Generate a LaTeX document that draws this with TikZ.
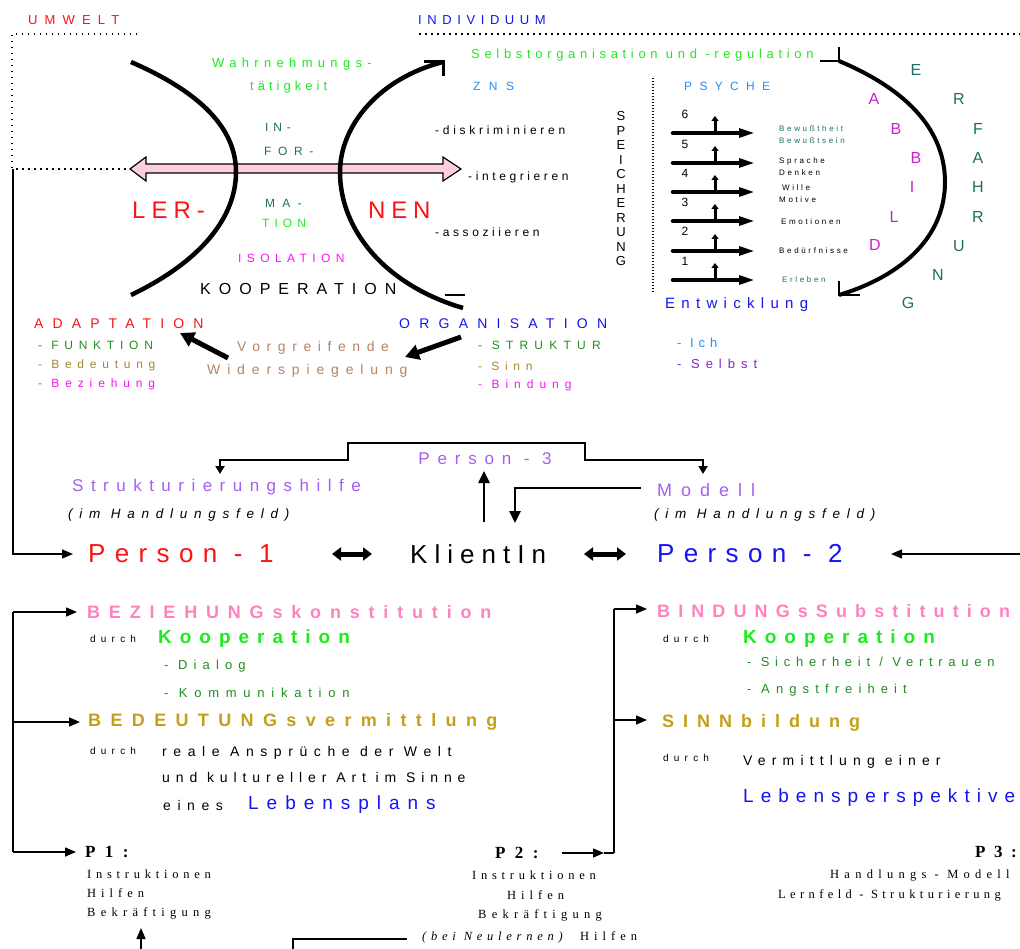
\documentclass[tikz,border=0pt]{standalone}
\usepackage{fontspec}
\setmainfont{Liberation Sans}
\newfontfamily\timesf{Liberation Serif}
\usetikzlibrary{arrows.meta}
\definecolor{umred}{RGB}{250,20,20}
\definecolor{indblue}{RGB}{20,20,240}
\definecolor{limegr}{RGB}{30,235,30}
\definecolor{tealgr}{RGB}{30,110,100}
\definecolor{forestgr}{RGB}{35,140,35}
\definecolor{olivey}{RGB}{165,135,45}
\definecolor{goldy}{RGB}{195,160,25}
\definecolor{magen}{RGB}{250,20,250}
\definecolor{abbild}{RGB}{205,30,205}
\definecolor{rosa}{RGB}{255,130,190}
\definecolor{skyb}{RGB}{30,144,255}
\definecolor{lila}{RGB}{165,95,240}
\definecolor{violett}{RGB}{135,35,205}
\definecolor{braun}{RGB}{185,130,100}
\definecolor{pinkfill}{RGB}{255,205,225}
\newcommand\lsf[2]{\fontsize{#1}{#1}\selectfont\addfontfeature{LetterSpace=#2}}
\tikzset{
  lbl/.style={inner sep=0pt, anchor=west},
  ctr/.style={inner sep=0pt},
  punkte/.style={line width=1.5pt, dash pattern=on 1.5pt off 4.5pt},
  bogen/.style={line width=4.5pt},
  linie/.style={line width=1.5pt},
  duennpfeil/.style={line width=1.5pt, -{Triangle[length=11pt,width=9pt]}},
  dickpfeil/.style={line width=5pt, -{Triangle[length=14pt,width=15pt]}},
  stufe/.style={line width=4.5pt, line cap=round, -{Triangle[length=18pt,width=8pt]}},
  stufeup/.style={line width=3pt, -{Triangle[length=5pt,width=7pt]}},
  klammer/.style={line width=2.5pt, {Triangle[length=8pt,width=9pt]}-{Triangle[length=8pt,width=9pt]}},
  hochpfeil/.style={line width=2.5pt, -{Triangle[length=12pt,width=11pt]}},
  doppel/.style={line width=5pt, {Triangle[length=9pt,width=13pt]}-{Triangle[length=9pt,width=13pt]}}
}
\begin{document}
\begin{tikzpicture}[x=1pt,y=-1pt]
\fill[white] (0,0) rectangle (1020,949);
\useasboundingbox (0,0) rectangle (1020,949);

% Umwelt / Individuum
\node[lbl, umred, font=\lsf{13}{55}] (umwelt) at (28,20) {UMWELT};
\node[lbl, indblue, font=\lsf{13}{43}] (indiv) at (418,20) {INDIVIDUUM};
\draw[punkte] (137,34) -- (12,34) -- (12,169) -- (130,169);
\draw[punkte] (419,34) -- (1020,34);

% Information (Doppelpfeil)
\filldraw[fill=pinkfill, line width=1.2pt] (130,169) -- (146,157) -- (146,164) -- (443,164) -- (443,157)
  -- (461,169) -- (443,181) -- (443,173) -- (146,173) -- (146,181) -- cycle;

% Boegen Lernen
\draw[bogen] (131,62) .. controls (200,92) and (236,128) .. (236,172) .. controls (236,218) and (200,262) .. (131,295);
\draw[bogen] (443,62) .. controls (380,78) and (340,125) .. (340,172) .. controls (340,230) and (385,285) .. (463,308);
\draw[line width=3pt] (424,62) -- (443,62) -- (443,76);
\draw[line width=2pt] (445,295) -- (465,295);

\node[lbl, limegr, font=\lsf{13}{41}] (wahr) at (212,64) {Wahrnehmungs-};
\node[lbl, limegr, font=\lsf{13}{31}] (taet) at (250,87) {tätigkeit};
\node[lbl, tealgr, font=\lsf{12}{40}] (in) at (265,127) {IN-};
\node[lbl, tealgr, font=\lsf{12}{55}] (for) at (264,151) {FOR-};
\node[lbl, tealgr, font=\lsf{12}{60}] (ma) at (265,203) {MA-};
\node[lbl, limegr, font=\lsf{12}{42}] (tion) at (262,223) {TION};
\node[lbl, umred, font=\lsf{24}{25}] (ler) at (132,210) {LER-};
\node[lbl, umred, font=\lsf{24}{24}] (nen) at (368,210) {NEN};
\node[lbl, magen, font=\lsf{12}{45}] (isol) at (238,258) {ISOLATION};
\node[lbl, font=\lsf{16}{50}] (koop) at (200,289) {KOOPERATION};
\node[lbl, font=\lsf{12}{31}] (diskr) at (435,130) {-diskriminieren};
\node[lbl, font=\lsf{12}{30}] (integr) at (468,177) {-integrieren};
\node[lbl, font=\lsf{12}{30}] (assoz) at (435,232) {-assoziieren};

% Individuum: ZNS / Psyche
\node[lbl, limegr, font=\lsf{13}{36}] (selbstorg) at (471,55) {Selbstorganisation\ und\ -regulation};
\node[lbl, skyb, font=\lsf{12}{70}] (zns) at (473,86) {ZNS};
\node[lbl, skyb, font=\lsf{12}{61}] (psyche) at (684,86) {PSYCHE};
\node[ctr, align=center, font=\fontsize{13}{14.5}\selectfont] (speich) at (621,189) {S\\P\\E\\I\\C\\H\\E\\R\\U\\N\\G};
\draw[line width=2pt, dash pattern=on 1.5pt off 1.5pt] (653,78) -- (653,294);

% Stufen 1-6
\draw[stufe] (673,133) -- (757,133);
\draw[stufeup] (715,133) -- (715,116);
\draw[stufe] (673,163) -- (757,163);
\draw[stufeup] (715,163) -- (715,146);
\draw[stufe] (673,192) -- (757,192);
\draw[stufeup] (715,192) -- (715,175);
\draw[stufe] (673,221) -- (757,221);
\draw[stufeup] (715,221) -- (715,204);
\draw[stufe] (673,251) -- (757,251);
\draw[stufeup] (715,251) -- (715,234);
\draw[stufe] (673,280) -- (757,280);
\draw[stufeup] (715,280) -- (715,263);
\node[ctr, font=\lsf{12}{0}] (n6) at (685,114) {6};
\node[ctr, font=\lsf{12}{0}] (n5) at (685,144) {5};
\node[ctr, font=\lsf{12}{0}] (n4) at (685,173) {4};
\node[ctr, font=\lsf{12}{0}] (n3) at (685,202) {3};
\node[ctr, font=\lsf{12}{0}] (n2) at (685,231) {2};
\node[ctr, font=\lsf{12}{0}] (n1) at (685,261) {1};
\node[lbl, tealgr, font=\lsf{8}{33}] (bewh) at (779,129) {Bewußtheit};
\node[lbl, tealgr, font=\lsf{8}{33}] (bews) at (779,141) {Bewußtsein};
\node[lbl, font=\lsf{8}{33}] (sprache) at (779,161) {Sprache};
\node[lbl, font=\lsf{8}{33}] (denken) at (779,173) {Denken};
\node[lbl, font=\lsf{8}{33}] (wille) at (782,188) {Wille};
\node[lbl, font=\lsf{8}{33}] (motive) at (779,200) {Motive};
\node[lbl, font=\lsf{8}{33}] (emo) at (781,222) {Emotionen};
\node[lbl, font=\lsf{8}{33}] (beduerf) at (779,251) {Bedürfnisse};
\node[lbl, tealgr, font=\lsf{8}{33}] (erleben) at (782,280) {Erleben};

% Bogen Erfahrung / Abbild
\draw[line width=4pt] (839,61) .. controls (920,95) and (945,140) .. (945,182) .. controls (945,235) and (905,275) .. (839,295);
\draw[line width=2pt] (820,61) -- (839,61) -- (839,47);
\draw[line width=2pt] (839,281) -- (839,295) -- (860,295);
\node[ctr, abbild, font=\lsf{16}{0}] (a1) at (874,99) {A};
\node[ctr, abbild, font=\lsf{16}{0}] (a2) at (896,129) {B};
\node[ctr, abbild, font=\lsf{16}{0}] (a3) at (916,158) {B};
\node[ctr, abbild, font=\lsf{16}{0}] (a4) at (912,187) {I};
\node[ctr, abbild, font=\lsf{16}{0}] (a5) at (894,217) {L};
\node[ctr, abbild, font=\lsf{16}{0}] (a6) at (875,245) {D};
\node[ctr, tealgr, font=\lsf{16}{0}] (e1) at (916,70) {E};
\node[ctr, tealgr, font=\lsf{16}{0}] (e2) at (959,99) {R};
\node[ctr, tealgr, font=\lsf{16}{0}] (e3) at (978,129) {F};
\node[ctr, tealgr, font=\lsf{16}{0}] (e4) at (978,158) {A};
\node[ctr, tealgr, font=\lsf{16}{0}] (e5) at (978,187) {H};
\node[ctr, tealgr, font=\lsf{16}{0}] (e6) at (978,217) {R};
\node[ctr, tealgr, font=\lsf{16}{0}] (e7) at (959,246) {U};
\node[ctr, tealgr, font=\lsf{16}{0}] (e8) at (938,275) {N};
\node[ctr, tealgr, font=\lsf{16}{0}] (e9) at (908,303) {G};
\node[lbl, indblue, font=\lsf{15}{42}] (entw) at (665,305) {Entwicklung};
\node[lbl, skyb, font=\lsf{13}{38}] (ich) at (677,343) {- Ich};
\node[lbl, violett, font=\lsf{13}{46}] (selbst) at (677,364) {- Selbst};

% Adaptation / Organisation
\node[lbl, umred, font=\lsf{14}{65}] (adapt) at (34,324) {ADAPTATION};
\node[lbl, forestgr, font=\lsf{12}{48}] (funk) at (38,345) {- FUNKTION};
\node[lbl, olivey, font=\lsf{12}{48}] (bedeut) at (38,365) {- Bedeutung};
\node[lbl, magen, font=\lsf{12}{49}] (bezieh) at (38,384) {- Beziehung};
\node[lbl, braun, font=\lsf{14}{47}] (vorg) at (237,348) {Vorgreifende};
\node[lbl, braun, font=\lsf{14}{49}] (widersp) at (207,371) {Widerspiegelung};
\node[lbl, indblue, font=\lsf{14}{66}] (organ) at (399,324) {ORGANISATION};
\node[lbl, forestgr, font=\lsf{12}{52}] (strukt) at (478,345) {- STRUKTUR};
\node[lbl, olivey, font=\lsf{12}{48}] (sinn) at (478,366) {- Sinn};
\node[lbl, magen, font=\lsf{12}{50}] (bind) at (478,385) {- Bindung};
\coordinate (vorgA) at (228,358);
\coordinate (adaptA) at (180,333);
\coordinate (organA) at (461,337);
\coordinate (vorgB) at (405,357);
\draw[dickpfeil] (vorgA) -- (adaptA);
\draw[dickpfeil] (organA) -- (vorgB);

% Personen
\node[ctr, lila, font=\lsf{17}{46}] (p3) at (485,459) {Person - 3};
\node[lbl, lila, font=\lsf{17}{44}] (strhilfe) at (72,487) {Strukturierungshilfe};
\node[lbl, font=\itshape\lsf{13.5}{50}] (imhf1) at (68,515) {(im Handlungsfeld)};
\node[lbl, lila, font=\lsf{18}{50}] (modell) at (657,490) {Modell};
\node[lbl, font=\itshape\lsf{13.5}{50}] (imhf2) at (654,515) {(im Handlungsfeld)};
\node[lbl, umred, font=\lsf{26}{36}] (pers1) at (88,554) {Person - 1};
\node[lbl, font=\lsf{26}{27}] (klient) at (410,554) {KlientIn};
\node[lbl, indblue, font=\lsf{26}{36}] (pers2) at (657,554) {Person - 2};
\coordinate (k1) at (220,474);
\coordinate (k2) at (703,474);
\draw[klammer] (k1) |- (348,460) |- (585,443) |- (703,460) -- (k2);
\coordinate (kup) at (484,522);
\coordinate (p3s) at (484,471);
\draw[hochpfeil] (kup) -- (p3s);
\coordinate (kdown) at (515,523);
\draw[hochpfeil] (641,488) -| (kdown);
\coordinate (d1) at (332,554);
\coordinate (d2) at (372,554);
\coordinate (d3) at (584,554);
\coordinate (d4) at (626,554);
\draw[doppel] (d1) -- (d2);
\draw[doppel] (d3) -- (d4);
\coordinate (ecke) at (13,169);
\coordinate (p1spitze) at (73,554);
\draw[duennpfeil] (ecke) |- (p1spitze);
\coordinate (rechts) at (1022,554);
\coordinate (p2spitze) at (891,554);
\draw[duennpfeil] (rechts) -- (p2spitze);

% Beziehung / Bedeutung
\node[lbl, rosa, font=\bfseries\lsf{18}{49}] (bezk) at (87,612) {BEZIEHUNGskonstitution};
\node[lbl, font=\lsf{10}{52}] (durch1) at (90,639) {durch};
\node[lbl, limegr, font=\bfseries\lsf{19}{42}] (koop1) at (158,639) {Kooperation};
\node[lbl, forestgr, font=\lsf{13}{47}] (dialog) at (164,666) {- Dialog};
\node[lbl, forestgr, font=\lsf{13}{52}] (kommu) at (164,693) {- Kommunikation};
\node[lbl, goldy, font=\bfseries\lsf{18}{52}] (bedv) at (88,722) {BEDEUTUNGsvermittlung};
\node[lbl, font=\lsf{10}{52}] (durch2) at (90,751) {durch};
\node[lbl, font=\lsf{14}{47}] (reale) at (162,753) {reale Ansprüche der Welt};
\node[lbl, font=\lsf{14}{42}] (kultur) at (162,777) {und kultureller Art im Sinne};
\node[lbl, font=\lsf{14}{47}] (eines) at (163,805) {eines};
\node[lbl, indblue, font=\lsf{19}{42}] (lebensplan) at (248,805) {Lebensplans};
\coordinate (lb1) at (13,612);
\coordinate (lb2) at (13,722);
\coordinate (lb3) at (13,852);
\draw[linie] (lb1) -- (lb3);
\draw[duennpfeil] (lb1) -- ([xshift=-10pt]bezk.west);
\draw[duennpfeil] (lb2) -- ([xshift=-8pt]bedv.west);
\draw[duennpfeil] (lb3) -- (76,852);

% Bindung / Sinn
\node[lbl, rosa, font=\bfseries\lsf{18}{45}] (binds) at (657,611) {BINDUNGsSubstitution};
\node[lbl, font=\lsf{10}{52}] (durch3) at (663,639) {durch};
\node[lbl, limegr, font=\bfseries\lsf{19}{42}] (koop2) at (743,639) {Kooperation};
\node[lbl, forestgr, font=\lsf{13}{44}] (sicher) at (747,662) {- Sicherheit / Vertrauen};
\node[lbl, forestgr, font=\lsf{13}{47}] (angst) at (747,690) {- Angstfreiheit};
\node[lbl, goldy, font=\bfseries\lsf{18}{50}] (sinnb) at (662,723) {SINNbildung};
\node[lbl, font=\lsf{10}{52}] (durch4) at (663,758) {durch};
\node[lbl, font=\lsf{14}{44}] (vermitt) at (743,762) {Vermittlung einer};
\node[lbl, indblue, font=\lsf{19}{37}] (lebensp) at (743,798) {Lebensperspektive};
\coordinate (rb1) at (614,609);
\coordinate (rb2) at (614,720);
\coordinate (rb3) at (614,853);
\draw[linie] (rb1) -- (rb3);
\draw[duennpfeil] (rb1) -- (647,609);
\draw[duennpfeil] (rb2) -- (647,720);

% P1 - P3
\node[lbl, font=\timesf\bfseries\lsf{17}{55}] (P1) at (85,852) {P1:};
\node[lbl, font=\timesf\lsf{12.5}{38}] (instr1) at (87,874) {Instruktionen};
\node[lbl, font=\timesf\lsf{12.5}{40}] (hilf1) at (87,893) {Hilfen};
\node[lbl, font=\timesf\lsf{12.5}{42}] (bekr1) at (87,913) {Bekräftigung};
\node[lbl, font=\timesf\bfseries\lsf{17}{55}] (P2) at (495,853) {P2:};
\node[lbl, font=\timesf\lsf{12.5}{38}] (instr2) at (472,875) {Instruktionen};
\node[lbl, font=\timesf\lsf{12.5}{40}] (hilf2) at (507,895) {Hilfen};
\node[lbl, font=\timesf\lsf{12.5}{42}] (bekr2) at (478,915) {Bekräftigung};
\node[lbl, font=\timesf\itshape\lsf{12.5}{38}] (neul) at (422,937) {(bei Neulernen)};
\node[lbl, font=\timesf\lsf{12.5}{40}] (hilf3) at (580,936) {Hilfen};
\node[lbl, font=\timesf\bfseries\lsf{17}{50}] (P3) at (975,852) {P3:};
\node[lbl, font=\timesf\lsf{12.5}{42}] (handl) at (830,876) {Handlungs - Modell};
\node[lbl, font=\timesf\lsf{12.5}{35}] (lernf) at (778,895) {Lernfeld - Strukturierung};
\coordinate (p2a) at (562,853);
\coordinate (p2b) at (604,853);
\draw[duennpfeil] (p2a) -- (p2b);
\draw[linie] (p2b) -- (rb3);
\coordinate (unten1) at (141,951);
\coordinate (unten2) at (141,928);
\draw[duennpfeil] (unten1) -- (unten2);
\draw[linie] (293,951) -- (293,939) -- (407,939);

\end{tikzpicture}
\end{document}
